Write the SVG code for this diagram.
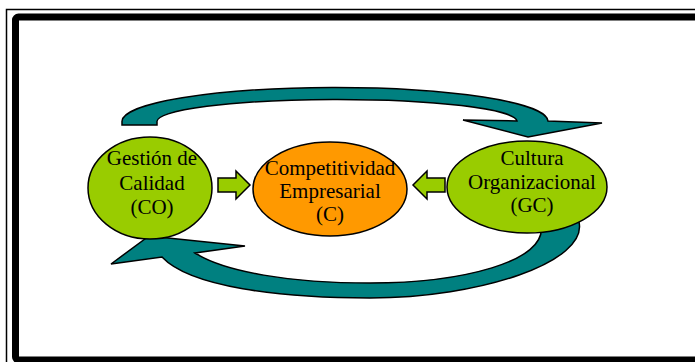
<svg xmlns="http://www.w3.org/2000/svg" width="695" height="362" viewBox="0 0 695 362">
<style>
.lbl{font-family:"Liberation Serif","Times New Roman",serif;font-size:21px;fill:#000;text-anchor:middle}
.node{stroke:#000;stroke-width:1.5}
.teal{fill:#008080;stroke:#000;stroke-width:1.5;stroke-linejoin:miter}
.grn{fill:#99CC00;stroke:#000;stroke-width:1.5}
</style>
<rect x="0" y="0" width="695" height="362" fill="#fff"/>
<g id="frame">
<rect x="6.5" y="9.5" width="720" height="380" fill="none" stroke="#000" stroke-width="1.5"/>
<rect x="15.5" y="17" width="720" height="343" rx="3" fill="none" stroke="#000" stroke-width="7"/>
</g>
<g id="connectors">
<path class="teal" d="M 122,125 L 122,122 A 213,34 0 0 1 548,121 L 602,123 L 528,137 L 463,120 L 517,121 A 180,22 0 0 0 157,122 L 157,125 Z"/>
<path class="teal" d="M 541,225 L 579,222 C 588,262 480,298 370,298 C 280,298 190,287 162,257 L 111,264 L 149,236 L 245,246 L 195,253 C 225,272 290,283 370,283 C 460,283 548,262 541,225 Z"/>
<path class="grn" d="M 218,178 L 236,178 L 236,171 L 250,185 L 236,199 L 236,192 L 218,192 Z"/>
<path class="grn" d="M 445,178 L 427,178 L 427,171 L 413,185 L 427,199 L 427,192 L 445,192 Z"/>
</g>
<g id="gestion">
<ellipse class="node" cx="150" cy="188" rx="62" ry="51" fill="#99CC00"/>
<text class="lbl" x="152" y="165">Gestión de</text>
<text class="lbl" x="152" y="190">Calidad</text>
<text class="lbl" x="152" y="214">(CO)</text>
</g>
<g id="competitividad">
<ellipse class="node" cx="330" cy="189" rx="77" ry="47" fill="#FF9900"/>
<text class="lbl" x="330" y="175">Competitividad</text>
<text class="lbl" x="330" y="198">Empresarial</text>
<text class="lbl" x="330" y="221">(C)</text>
</g>
<g id="cultura">
<ellipse class="node" cx="527" cy="187" rx="80" ry="46" fill="#99CC00"/>
<text class="lbl" x="532" y="165">Cultura</text>
<text class="lbl" x="532" y="189">Organizacional</text>
<text class="lbl" x="532" y="212">(GC)</text>
</g>
</svg>
